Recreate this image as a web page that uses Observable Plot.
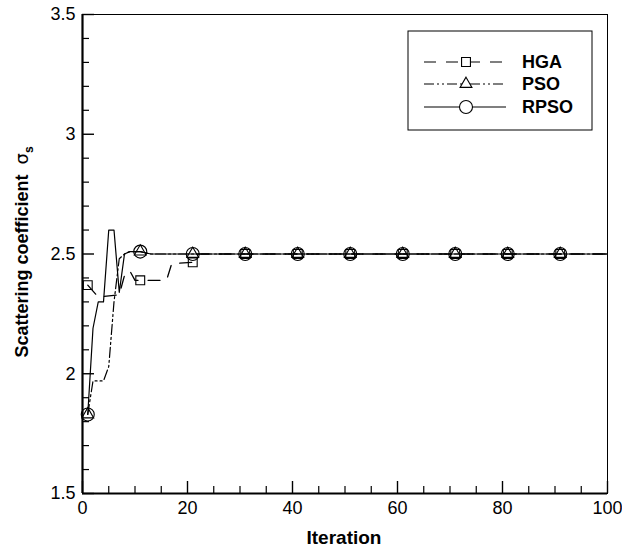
<!DOCTYPE html>
<html><head><meta charset="utf-8">
<script src="https://cdn.jsdelivr.net/npm/d3@7"></script>
<script src="https://cdn.jsdelivr.net/npm/@observablehq/plot@0.6"></script>
<style>body{margin:0;background:#fff;} #chart{width:622px;height:553px;}</style>
</head><body><div id="chart"></div>
<script>
// ---- data ----
const hgaIter = [1, 3, 7, 8, 9, 10, 16, 17, 21, 22, 100];
const hgaVal  = [2.37, 2.32, 2.33, 2.41, 2.43, 2.39, 2.39, 2.46, 2.465, 2.50, 2.50];
const psoIter = [1, 2, 4, 5, 6, 7, 8, 9, 11, 13, 100];
const psoVal  = [1.83, 1.97, 1.97, 2.03, 2.30, 2.48, 2.50, 2.51, 2.51, 2.50, 2.50];
const rpsoIter = [1, 2, 3, 4, 5, 6, 7, 8, 9, 11, 13, 100];
const rpsoVal  = [1.83, 2.19, 2.30, 2.30, 2.60, 2.60, 2.34, 2.50, 2.51, 2.51, 2.50, 2.50];
const markerIter = [1, 11, 21, 31, 41, 51, 61, 71, 81, 91];
const hgaMark  = [2.37, 2.39, 2.465, 2.50, 2.50, 2.50, 2.50, 2.50, 2.50, 2.50];
const psoMark  = [1.83, 2.51, 2.50, 2.50, 2.50, 2.50, 2.50, 2.50, 2.50, 2.50];
const rpsoMark = [1.83, 2.51, 2.50, 2.50, 2.50, 2.50, 2.50, 2.50, 2.50, 2.50];
const xMajor = [0, 20, 40, 60, 80, 100];
const xMinor = [5, 10, 15, 25, 30, 35, 45, 50, 55, 65, 70, 75, 85, 90, 95];
const yMajor = [1.5, 2, 2.5, 3, 3.5];
const yMinor = [1.6, 1.7, 1.8, 1.9, 2.1, 2.2, 2.3, 2.4, 2.6, 2.7, 2.8, 2.9, 3.1, 3.2, 3.3, 3.4];
const seriesNames = ["HGA", "PSO", "RPSO"];
const xTitle = "Iteration";
const yTitle = "Scattering coefficient";

const toRows = (xs, ys) => xs.map((x, i) => ({x, y: ys[i]}));
const hga = toRows(hgaIter, hgaVal), pso = toRows(psoIter, psoVal), rpso = toRows(rpsoIter, rpsoVal);
const hgaM = toRows(markerIter, hgaMark), psoM = toRows(markerIter, psoMark), rpsoM = toRows(markerIter, rpsoMark);

const styles = {
  HGA:  {dash: "12,10", symbol: "square", r: 5},
  PSO:  {dash: "10,3,2,3,2,3", symbol: "triangle", r: 4.4},
  RPSO: {dash: null, symbol: "circle", r: 6.5}
};
const font = "'Liberation Sans', Arial, Helvetica, sans-serif";

const plot = Plot.plot({
  width: 622, height: 553,
  marginLeft: 82, marginRight: 15, marginTop: 14, marginBottom: 60,
  x: {domain: [0, 100]},
  y: {domain: [1.5, 3.5]},
  style: {fontFamily: font, fontSize: "18px", background: "#fff"},
  marks: [
    Plot.frame({stroke: "#000", strokeWidth: 1}),
    Plot.axisX(xMinor, {tickSize: -7, tickPadding: 30, tickFormat: () => "", stroke: "#000", strokeWidth: 1.2, label: null}),
    Plot.axisX(xMajor, {tickSize: -12, tickPadding: 20, tickFormat: d => String(d), stroke: "#000", strokeWidth: 1.4, fill: "#000", label: null}),
    Plot.axisY(yMinor, {tickSize: -7, tickPadding: 30, tickFormat: () => "", stroke: "#000", strokeWidth: 1.2, label: null}),
    Plot.axisY(yMajor, {tickSize: -12, tickPadding: 19, tickFormat: d => String(d), stroke: "#000", strokeWidth: 1.4, fill: "#000", label: null}),
    Plot.ruleX([0], {stroke: "#000", strokeWidth: 2.2}),
    Plot.ruleY([1.5], {stroke: "#000", strokeWidth: 2.2}),
    Plot.line(hga, {x: "x", y: "y", stroke: "#000", strokeWidth: 1.3, strokeDasharray: styles.HGA.dash}),
    Plot.line(pso, {x: "x", y: "y", stroke: "#000", strokeWidth: 1.2, strokeDasharray: styles.PSO.dash}),
    Plot.line(rpso, {x: "x", y: "y", stroke: "#000", strokeWidth: 1.2}),
    Plot.dot(hgaM, {x: "x", y: "y", symbol: "square", r: styles.HGA.r, stroke: "#000", fill: "none", strokeWidth: 1.1}),
    Plot.dot(psoM, {x: "x", y: "y", symbol: "triangle", r: styles.PSO.r, stroke: "#000", fill: "none", strokeWidth: 1.1}),
    Plot.dot(rpsoM, {x: "x", y: "y", symbol: "circle", r: styles.RPSO.r, stroke: "#000", fill: "none", strokeWidth: 1.1})
  ]
});
document.getElementById("chart").appendChild(plot);

const svg = d3.select(plot);
// axis titles
svg.append("text").attr("x", 344).attr("y", 544).attr("text-anchor", "middle")
  .attr("font-family", font).attr("font-weight", "bold").attr("font-size", 19).attr("fill", "#000")
  .text(xTitle);
const yt = svg.append("text").attr("transform", "translate(28,252) rotate(-90)").attr("text-anchor", "middle")
  .attr("font-family", font).attr("font-weight", "bold").attr("font-size", 18).attr("fill", "#000");
yt.append("tspan").text(yTitle + "  ");
yt.append("tspan").attr("font-weight", "normal").attr("font-family", "'DejaVu Sans', sans-serif").text("σ");
yt.append("tspan").attr("font-size", 12).attr("dy", 5).text("s");

// legend
const lg = svg.append("g");
lg.append("rect").attr("x", 408).attr("y", 31).attr("width", 184).attr("height", 99)
  .attr("fill", "#fff").attr("stroke", "#000").attr("stroke-width", 1);
const rowsY = [62, 84, 107];
seriesNames.forEach((name, i) => {
  const s = styles[name];
  const y = rowsY[i];
  lg.append("line").attr("x1", 424).attr("x2", 506).attr("y1", y).attr("y2", y)
    .attr("stroke", "#000").attr("stroke-width", 1.2).attr("stroke-dasharray", s.dash);
  const sym = {square: d3.symbolSquare, triangle: d3.symbolTriangle, circle: d3.symbolCircle}[s.symbol];
  lg.append("path").attr("transform", `translate(466,${y})`)
    .attr("d", d3.symbol(sym, Math.PI * s.r * s.r)()).attr("fill", "#fff").attr("stroke", "#000").attr("stroke-width", 1.1);
  lg.append("text").attr("x", 522).attr("y", y + 6).attr("text-anchor", "start").attr("font-family", font).attr("font-weight", "bold")
    .attr("font-size", 18).attr("fill", "#000").text(name);
});
</script></body></html>
